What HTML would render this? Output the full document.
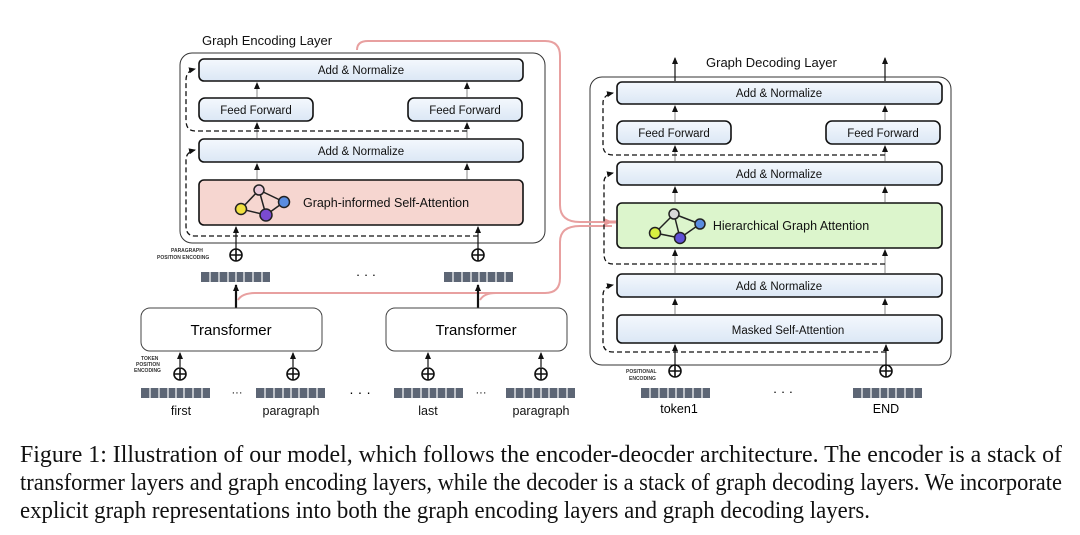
<!DOCTYPE html>
<html><head><meta charset="utf-8"><style>
html,body{margin:0;padding:0;background:#fff;}
svg{display:block;font-family:"Liberation Sans",sans-serif;}
</style></head><body>
<svg width="1080" height="535" viewBox="0 0 1080 535" xmlns="http://www.w3.org/2000/svg">
<defs>
<marker id="ah" markerWidth="8" markerHeight="8" refX="6" refY="4" orient="auto" markerUnits="userSpaceOnUse"><path d="M0,1 L7,4 L0,7 z" fill="#111"/></marker>
<marker id="rh" markerWidth="10" markerHeight="10" refX="8" refY="5" orient="auto" markerUnits="userSpaceOnUse"><path d="M0,1 L9,5 L0,9 z" fill="#e89a9a"/></marker>
<linearGradient id="bl" x1="0" y1="0" x2="0" y2="1"><stop offset="0" stop-color="#f4f8fd"/><stop offset="1" stop-color="#dbe7f5"/></linearGradient>
<g id="vec"><rect x="0" y="0" width="69" height="10" fill="#5d6675"/><path d="M9,0V10M18,0V10M27,0V10M35,0V10M43,0V10M52,0V10M61,0V10" stroke="#fff" stroke-width="1.2"/></g>
<g id="plus"><circle r="6" fill="#fff" stroke="#111" stroke-width="1.6"/><path d="M-6,0H6M0,-6V6" stroke="#111" stroke-width="1.6"/></g>
</defs>

<text x="202" y="45" font-size="13" fill="#111">Graph Encoding Layer</text>
<rect x="180" y="53" width="365" height="190" rx="12" fill="#fff" stroke="#333" stroke-width="1"/>
<rect x="590" y="77" width="361" height="288" rx="12" fill="#fff" stroke="#333" stroke-width="1"/>

<g fill="none" stroke="#e8a0a0" stroke-width="2">
<path d="M357,50 Q357,41 368,41 L545,41 Q560,41 560,56 L560,205 Q560,222 580,222 L612,222" marker-end="url(#rh)"/>
<path d="M238,300 Q242,293 256,293 L545,293 Q560,293 560,278 L560,242 Q560,226 580,226 L612,226"/>
<path d="M480,300 Q484,293 496,293"/>
</g>

<g stroke="#111" stroke-width="1.6">
<rect x="199" y="59" width="324" height="22" rx="5" fill="url(#bl)"/>
<rect x="199" y="98" width="114" height="23" rx="6" fill="url(#bl)"/>
<rect x="408" y="98" width="114" height="23" rx="6" fill="url(#bl)"/>
<rect x="199" y="139" width="324" height="23" rx="5" fill="url(#bl)"/>
<rect x="199" y="180" width="324" height="45" rx="5" fill="#f6d6d0"/>
</g>
<g font-size="11.5" text-anchor="middle" fill="#111">
<text x="361" y="74">Add &amp; Normalize</text>
<text x="256" y="114">Feed Forward</text>
<text x="465" y="114">Feed Forward</text>
<text x="361" y="155">Add &amp; Normalize</text>
<text x="386" y="207" font-size="12.5">Graph-informed Self-Attention</text>
</g>
<g stroke="#888" stroke-width="1" marker-end="url(#ah)">
<path d="M257,97V83"/><path d="M467,97V83"/>
<path d="M257,138V123"/><path d="M467,138V123"/>
<path d="M257,179V164"/><path d="M467,179V164"/>
</g>
<g stroke="#111" stroke-width="1.2" marker-end="url(#ah)">
<path d="M236,249V227"/><path d="M478,249V227"/>
</g>
<g fill="none" stroke="#111" stroke-width="1.3" stroke-dasharray="5,3">
<path d="M467,131H195Q186,131 186,120V80Q186,71 195,69" marker-end="url(#ah)"/>
<path d="M478,236H195Q186,236 186,226V160Q186,152 195,150" marker-end="url(#ah)"/>
</g>
<g stroke="#222" stroke-width="1.5">
<path d="M259,190L241,209L266,215L259,190L284,202L266,215" fill="none"/>
<circle cx="259" cy="190" r="5" fill="#e8c8d8"/>
<circle cx="284" cy="202" r="5.5" fill="#5a8de0"/>
<circle cx="241" cy="209" r="5.5" fill="#f0e040"/>
<circle cx="266" cy="215" r="6" fill="#7a4ad0"/>
</g>
<text x="171" y="252" font-size="5" font-weight="bold" fill="#333">PARAGRAPH</text>
<text x="157" y="259" font-size="5" font-weight="bold" fill="#333">POSITION ENCODING</text>
<use href="#plus" x="236" y="255"/><use href="#plus" x="478" y="255"/>
<use href="#vec" x="201" y="272"/><use href="#vec" x="444" y="272"/>
<text x="366" y="279" font-size="13" text-anchor="middle">· · ·</text>
<g stroke="#111" stroke-width="2.2" marker-end="url(#ah)">
<path d="M236,308V285"/><path d="M478,308V285"/>
</g>

<g fill="#fff" stroke="#444" stroke-width="1">
<rect x="141" y="308" width="181" height="43" rx="9"/>
<rect x="386" y="308" width="181" height="43" rx="9"/>
</g>
<text x="231" y="335" font-size="15" text-anchor="middle">Transformer</text>
<text x="476" y="335" font-size="15" text-anchor="middle">Transformer</text>
<g stroke="#111" stroke-width="1.2" marker-end="url(#ah)">
<path d="M180,367V353"/><path d="M293,367V353"/><path d="M428,367V353"/><path d="M541,367V353"/>
</g>
<text x="141" y="360" font-size="5" font-weight="bold" fill="#333">TOKEN</text>
<text x="136" y="366" font-size="5" font-weight="bold" fill="#333">POSITION</text>
<text x="134" y="372" font-size="5" font-weight="bold" fill="#333">ENCODING</text>
<use href="#plus" x="180" y="374"/><use href="#plus" x="293" y="374"/><use href="#plus" x="428" y="374"/><use href="#plus" x="541" y="374"/>
<use href="#vec" x="141" y="388"/><use href="#vec" x="256" y="388"/><use href="#vec" x="394" y="388"/><use href="#vec" x="506" y="388"/>
<g font-size="12.5" text-anchor="middle" fill="#111">
<text x="181" y="415">first</text><text x="291" y="415">paragraph</text>
<text x="428" y="415">last</text><text x="541" y="415">paragraph</text>
</g>
<text x="237" y="396" font-size="11" text-anchor="middle">···</text>
<text x="360" y="397" font-size="14" text-anchor="middle">· · ·</text>
<text x="481" y="396" font-size="11" text-anchor="middle">···</text>

<text x="706" y="67" font-size="13" fill="#111">Graph Decoding Layer</text>
<g stroke="#111" stroke-width="1.2" marker-end="url(#ah)">
<path d="M675,81V58"/><path d="M885,81V58"/>
</g>
<g stroke="#111" stroke-width="1.6">
<rect x="617" y="82" width="325" height="22" rx="5" fill="url(#bl)"/>
<rect x="617" y="121" width="114" height="23" rx="6" fill="url(#bl)"/>
<rect x="826" y="121" width="114" height="23" rx="6" fill="url(#bl)"/>
<rect x="617" y="162" width="325" height="23" rx="5" fill="url(#bl)"/>
<rect x="617" y="203" width="325" height="45" rx="5" fill="#dcf5cc"/>
<rect x="617" y="274" width="325" height="23" rx="5" fill="url(#bl)"/>
<rect x="617" y="315" width="325" height="28" rx="5" fill="url(#bl)"/>
</g>
<path d="M606,222H616" stroke="#e89a9a" stroke-width="3"/>
<g font-size="11.5" text-anchor="middle" fill="#111">
<text x="779" y="97">Add &amp; Normalize</text>
<text x="674" y="137">Feed Forward</text>
<text x="883" y="137">Feed Forward</text>
<text x="779" y="178">Add &amp; Normalize</text>
<text x="791" y="230" font-size="12.5">Hierarchical Graph Attention</text>
<text x="779" y="290">Add &amp; Normalize</text>
<text x="788" y="334">Masked Self-Attention</text>
</g>
<g stroke="#888" stroke-width="1" marker-end="url(#ah)">
<path d="M675,120V106"/><path d="M885,120V106"/>
<path d="M675,161V146"/><path d="M885,161V146"/>
<path d="M675,202V187"/><path d="M885,202V187"/>
<path d="M675,273V250"/><path d="M885,273V250"/>
<path d="M675,314V299"/><path d="M885,314V299"/>
</g>
<g stroke="#111" stroke-width="1.2" marker-end="url(#ah)">
<path d="M675,365V345"/><path d="M886,365V345"/>
</g>
<g fill="none" stroke="#111" stroke-width="1.3" stroke-dasharray="5,3">
<path d="M885,155H613Q603,155 603,145V103Q603,95 613,93" marker-end="url(#ah)"/>
<path d="M885,264H613Q604,264 604,254V182Q604,175 613,173" marker-end="url(#ah)"/>
<path d="M886,352H613Q603,352 603,342V295Q603,287 613,285" marker-end="url(#ah)"/>
</g>
<g stroke="#222" stroke-width="1.5">
<path d="M674,214L655,233L680,238L674,214L700,224L680,238" fill="none"/>
<circle cx="674" cy="214" r="5" fill="#d8d8d8"/>
<circle cx="700" cy="224" r="5" fill="#5a8de0"/>
<circle cx="655" cy="233" r="5.5" fill="#d8f040"/>
<circle cx="680" cy="238" r="5.5" fill="#6050d8"/>
</g>
<text x="626" y="373" font-size="5" font-weight="bold" fill="#333">POSITIONAL</text>
<text x="629" y="380" font-size="5" font-weight="bold" fill="#333">ENCODING</text>
<use href="#plus" x="675" y="371"/><use href="#plus" x="886" y="371"/>
<use href="#vec" x="641" y="388"/><use href="#vec" x="853" y="388"/>
<text x="783" y="396" font-size="13" text-anchor="middle">· · ·</text>
<text x="679" y="413" font-size="12.5" text-anchor="middle">token1</text>
<text x="886" y="413" font-size="12.5" text-anchor="middle">END</text>

<g font-family="'Liberation Serif',serif" font-size="24" fill="#111">
<text x="20" y="462" textLength="1042" lengthAdjust="spacingAndGlyphs">Figure 1:  Illustration of our model, which follows the encoder-deocder architecture.  The encoder is a stack of</text>
<text x="20" y="490" textLength="1042" lengthAdjust="spacingAndGlyphs">transformer layers and graph encoding layers, while the decoder is a stack of graph decoding layers. We incorporate</text>
<text x="20" y="518" textLength="850" lengthAdjust="spacingAndGlyphs">explicit graph representations into both the graph encoding layers and graph decoding layers.</text>
</g>
</svg>
</body></html>
